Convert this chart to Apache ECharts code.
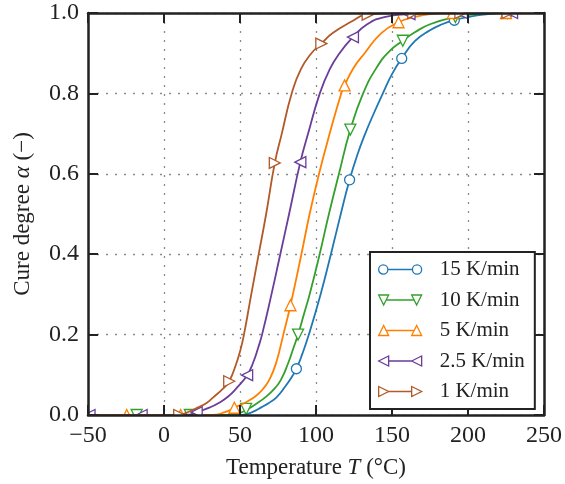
<!DOCTYPE html>
<html>
<head>
<meta charset="utf-8">
<script src="https://cdn.jsdelivr.net/npm/echarts@6/dist/echarts.min.js"></script>
<style>
html,body{margin:0;padding:0;background:#fff;}
#c{width:565px;height:484px;}
</style>
</head>
<body>
<div id="c"></div>
<script>
// ---------- data ----------
const seriesNames = ['15 K/min', '10 K/min', '5 K/min', '2.5 K/min', '1 K/min'];
const seriesColors = ['#1f78b4', '#33a02c', '#ff7f00', '#6a3d9a', '#b15928'];
const xTicks = [-50, 0, 50, 100, 150, 200, 250];
const yTicks = [0.0, 0.2, 0.4, 0.6, 0.8, 1.0];

// curves: [temperature °C, cure degree]
const curve15 = [[-50,0],[50,0],[55,0.003],[58,0.007],[64,0.019],[69,0.03],[74,0.044],[80,0.072],[84,0.094],[87.1,0.115],[91,0.152],[95.3,0.2],[103,0.3],[109.8,0.4],[116.3,0.5],[122.1,0.585],[127,0.645],[132.4,0.7],[138,0.75],[144,0.8],[150,0.848],[156.4,0.887],[165,0.93],[175,0.957],[183,0.972],[191,0.982],[200,0.99],[210,0.996],[226,1.0],[250,1.0]];
const curve10 = [[-50,0],[45,0],[49,0.004],[54,0.012],[60,0.026],[67,0.045],[73,0.067],[77,0.088],[81.6,0.128],[85,0.165],[88.2,0.2],[92,0.25],[95.8,0.3],[102.4,0.4],[108.5,0.5],[115.1,0.6],[122.6,0.71],[131,0.8],[140,0.865],[148.4,0.905],[157.1,0.931],[165,0.952],[175,0.972],[191.7,0.99],[205,0.997],[220,1.0],[250,1.0]];
const curve5 = [[-50,0],[32,0],[40,0.007],[46.3,0.018],[53,0.03],[60,0.046],[65,0.064],[69.6,0.09],[73.8,0.13],[78.5,0.2],[83.2,0.273],[90.4,0.4],[95.8,0.5],[102,0.6],[109,0.7],[116.6,0.8],[118.8,0.82],[125,0.865],[132,0.9],[143,0.95],[154.3,0.977],[165,0.99],[175,0.997],[190,1.0],[250,1.0]];
const curve2p5 = [[-50,0],[15,0],[21.5,0.007],[30.2,0.019],[36,0.03],[42.2,0.046],[48,0.068],[54.7,0.099],[58.6,0.13],[62,0.168],[64.5,0.2],[70.7,0.3],[76.5,0.4],[82.3,0.5],[89.7,0.629],[94.8,0.7],[102.5,0.8],[109,0.86],[115.5,0.9],[124.3,0.94],[133,0.97],[145,0.99],[161.5,0.997],[180,1.0],[250,1.0]];
const curve1 = [[-50,0],[10,0],[13,0.003],[22.5,0.019],[28,0.03],[32.4,0.044],[39,0.066],[42.9,0.084],[47.3,0.125],[50.3,0.162],[52.6,0.2],[57.4,0.3],[62.3,0.4],[67.2,0.5],[72.9,0.627],[77.5,0.7],[84,0.8],[90,0.86],[97,0.9],[103.5,0.924],[111,0.95],[124,0.98],[132,0.995],[150,1.0],[250,1.0]];

// marker positions
const marks15 = [[87.1,0.115],[122.1,0.585],[156.4,0.887],[191,0.982],[226,1.0]];
const marks10 = [[-18,0],[17,0],[54,0.015],[88.2,0.2],[122.6,0.71],[157.1,0.931],[191.7,0.99],[226,1.0]];
const marks5 = [[-24.5,0],[11,0],[46.3,0.018],[83.2,0.273],[118.8,0.82],[154.3,0.977],[190,1.0],[225,1.0]];
const marks2p5 = [[-49,0],[-14.7,0],[21.5,0.007],[54.7,0.099],[89.7,0.629],[124.3,0.94],[161.5,0.997],[196,1.0],[229,1.0]];
const marks1 = [[10,0],[42.9,0.084],[72.9,0.627],[103.5,0.924],[134,0.996],[164,1.0],[195,1.0],[226,1.0]];

// ---------- styling ----------
const curves = [curve15, curve10, curve5, curve2p5, curve1];
const marks = [marks15, marks10, marks5, marks2p5, marks1];
const symbols = ['circle', 'triangle', 'triangle', 'triangle', 'triangle'];
const rotations = [0, 180, 0, 90, -90];
const legendIcons = [
  'path://M0.5,5A4.5,4.5,0,1,1,9.5,5A4.5,4.5,0,1,1,0.5,5ZM9.5,5L33.5,5M33.5,5A4.5,4.5,0,1,1,42.5,5A4.5,4.5,0,1,1,33.5,5Z',
  'path://M0,0L10,0L5,10ZM7.5,5L35.5,5M33,0L43,0L38,10Z',
  'path://M0,10L10,10L5,0ZM7.5,5L35.5,5M33,10L43,10L38,0Z',
  'path://M0,5L10,0L10,10ZM10,5L33,5M33,5L43,0L43,10Z',
  'path://M0,0L10,5L0,10ZM10,5L33,5M33,0L43,5L33,10Z'
];
const FONT = 'Liberation Serif';
const INK = '#222';

const series = [];
for (let i = 0; i < 5; i++) {
  series.push({
    type: 'line', name: seriesNames[i], data: curves[i],
    showSymbol: false, symbol: 'none', smooth: 0.5,
    lineStyle: { color: seriesColors[i], width: 1.8 },
    itemStyle: { color: seriesColors[i] },
    z: 2 + i, animation: false
  });
  series.push({
    type: 'scatter', data: marks[i],
    symbol: symbols[i], symbolRotate: rotations[i], symbolSize: i === 0 ? 10 : 11,
    itemStyle: { color: '#fff', borderColor: seriesColors[i], borderWidth: 1.3, opacity: 1 },
    z: 2 + i, animation: false, silent: true
  });
}

const tickFmtX = v => (v < 0 ? '\u2212' + Math.abs(v) : String(v));
const tickFmtY = v => v.toFixed(1);

const frameAxisCommon = {
  z: 60, splitLine: { show: false }, axisLabel: { show: false },
  axisLine: { show: true, onZero: false, lineStyle: { color: INK, width: 2.5 } },
  axisTick: { show: true, inside: true, length: 10, lineStyle: { color: INK, width: 2 } }
};
const gridSplit = { show: true, lineStyle: { color: '#8a8a8a', width: 1.3, type: [2, 7] } };

const chart = echarts.init(document.getElementById('c'), null, { renderer: 'canvas' });
chart.setOption({
  animation: false,
  backgroundColor: '#fff',
  grid: { left: 88, right: 20, top: 13, bottom: 69, show: false },
  xAxis: [
    {
      type: 'value', min: -50, max: 250, interval: 50, position: 'bottom',
      axisLine: { show: false, onZero: false }, axisTick: { show: false },
      splitLine: gridSplit,
      axisLabel: { formatter: tickFmtX, fontFamily: FONT, fontSize: 24, color: INK, margin: 9 },
      name: '{n|Temperature }{i|T}{n| (°C)}', nameLocation: 'middle', nameGap: 41,
      nameTextStyle: { rich: {
        n: { fontFamily: FONT, fontSize: 23, color: INK },
        i: { fontFamily: FONT, fontSize: 23, fontStyle: 'italic', color: INK }
      } }
    },
    Object.assign({ type: 'value', min: -50, max: 250, interval: 50, position: 'bottom' }, frameAxisCommon),
    Object.assign({ type: 'value', min: -50, max: 250, interval: 50, position: 'top' }, frameAxisCommon)
  ],
  yAxis: [
    {
      type: 'value', min: 0, max: 1, interval: 0.2, position: 'left',
      axisLine: { show: false, onZero: false }, axisTick: { show: false },
      splitLine: gridSplit,
      axisLabel: { formatter: tickFmtY, fontFamily: FONT, fontSize: 24, color: INK, margin: 9 },
      name: '{n|Cure degree }{i|\u03b1}{n| (\u2212)}', nameLocation: 'middle', nameGap: 54, nameRotate: 90,
      nameTextStyle: { rich: {
        n: { fontFamily: FONT, fontSize: 23, color: INK },
        i: { fontFamily: FONT, fontSize: 23, fontStyle: 'italic', color: INK }
      } }
    },
    Object.assign({ type: 'value', min: 0, max: 1, interval: 0.2, position: 'left' }, frameAxisCommon),
    Object.assign({ type: 'value', min: 0, max: 1, interval: 0.2, position: 'right' }, frameAxisCommon)
  ],
  legend: {
    orient: 'vertical', left: 370, top: 252,
    padding: [7, 10, 7, 8],
    itemWidth: 43, itemHeight: 10, itemGap: 9.5,
    backgroundColor: '#fff', borderColor: INK, borderWidth: 2, borderRadius: 0,
    textStyle: { fontFamily: FONT, fontSize: 21, color: INK, lineHeight: 20, padding: [0, 0, 0, 13] },
    data: seriesNames.map((n, i) => ({
      name: n, icon: legendIcons[i],
      itemStyle: { color: '#fff', borderColor: seriesColors[i], borderWidth: 1.3 }
    })),
    z: 70
  },
  graphic: [
    { type: 'rect', z: 50, silent: true, shape: { x: 80, y: 0, width: 480, height: 12.5 }, style: { fill: '#fff' } },
    { type: 'rect', z: 50, silent: true, shape: { x: 80, y: 415.6, width: 480, height: 8 }, style: { fill: '#fff' } },
    { type: 'rect', z: 50, silent: true, shape: { x: 80, y: 8, width: 7.5, height: 415 }, style: { fill: '#fff' } }
  ],
  series: series
});
</script>
</body>
</html>
